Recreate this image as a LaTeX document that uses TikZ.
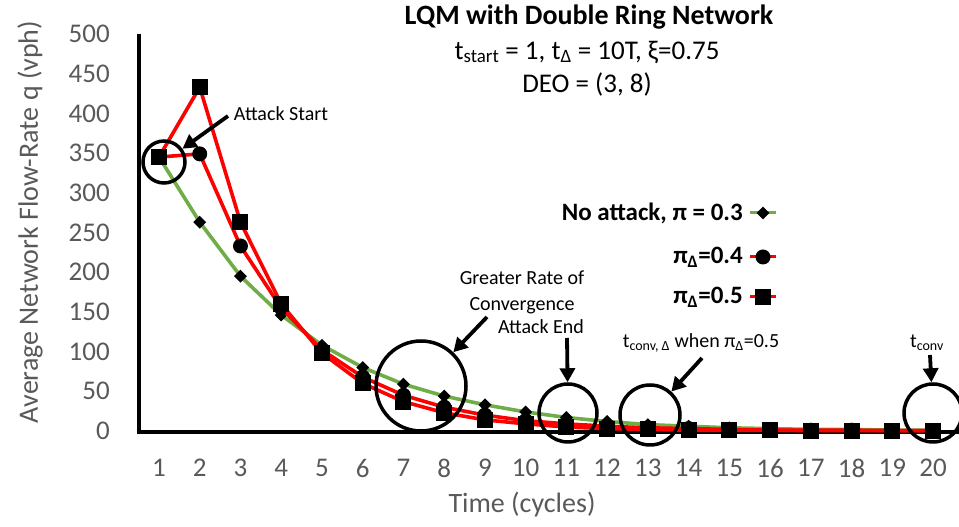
\documentclass[tikz,border=0pt]{standalone}
\usepackage{fontspec}
\setmainfont{Carlito}
\usetikzlibrary{arrows.meta,shapes.geometric}
\definecolor{axisgray}{HTML}{595959}
\definecolor{seriesgreen}{HTML}{70AD47}
\definecolor{seriesred}{HTML}{FF0000}
\begin{document}
\begin{tikzpicture}[x=1pt,y=1pt,
  ticklab/.style={text=axisgray,font=\fontsize{27}{32}\selectfont,inner sep=0pt},
  axtitle/.style={text=axisgray,font=\fontsize{27}{32}\selectfont,inner sep=0pt},
  headfont/.style={font=\fontsize{27}{32}\selectfont,inner sep=0pt},
  legfont/.style={font=\bfseries\fontsize{25}{30}\selectfont,inner sep=0pt},
  notefont/.style={font=\fontsize{20}{26}\selectfont,inner sep=0pt,align=center},
  axisline/.style={line width=3.5pt,black},
  greenline/.style={line width=3.6pt,seriesgreen,line join=round},
  redline/.style={line width=3.6pt,seriesred,line join=round},
  sqmark/.style={rectangle,fill=black,minimum size=16pt,inner sep=0pt},
  dotmark/.style={circle,fill=black,minimum size=15pt,inner sep=0pt},
  diamark/.style={diamond,aspect=1,fill=black,minimum size=13pt,inner sep=0pt},
  ring/.style={circle,draw=black,line width=3.5pt,inner sep=0pt},
  callout/.style={line width=3.8pt,-{Triangle[length=14pt,width=15pt]}}
]
\useasboundingbox (0,0) rectangle (959,527);

% axes
\draw[axisline] (139,493) -- (139,95) -- (959,95);

% y tick labels
\foreach \v in {0,50,...,500}
  \node[ticklab,anchor=east] (ytick\v) at (110,{96+0.794*\v}) {\v};
% x tick labels
\foreach \i in {1,...,20}
  \node[ticklab] (xtick\i) at ({159+40.74*(\i-1)},59) {\i};

% axis titles
\node[axtitle,font=\fontsize{28}{33}\selectfont,rotate=90] (ytitle) at (30,305) {Average Network Flow-Rate q (vph)};
\node[axtitle,font=\fontsize{28}{33}\selectfont] (xtitle) at (522,22) {Time (cycles)};

% chart title
\node[headfont,font=\bfseries\fontsize{28}{33}\selectfont] (title) at (589,510) {LQM with Double Ring Network};
\node[headfont] (sub1) at (587,475) {t\textsubscript{start} = 1, t\textsubscript{Δ} = 10T, ξ=0.75};
\node[headfont] (sub2) at (587,442) {DEO = (3, 8)};

% data series
\begin{scope}[shift={(118.26pt,96pt)},x=40.74pt,y=0.794pt]
  \draw[greenline] plot coordinates {(1,345)(2,263)(3,195)(4,146)(5,108)(6,80)(7,59)(8,44)(9,33)(10,24)(11,17)(12,12)(13,8)(14,6)(15,4)(16,3)(17,2)(18,2)(19,1)(20,1)};
  \foreach \i/\v in {1/345,2/263,3/195,4/146,5/108,6/80,7/59,8/44,9/33,10/24,11/17,12/12,13/8,14/6,15/4,16/3,17/2,18/2,19/1,20/1}
    \node[diamark] (g\i) at (\i,\v) {};
  \draw[redline] plot coordinates {(1,345)(2,349)(3,233)(4,155)(5,102)(6,68)(7,45)(8,30)(9,20)(10,13)(11,9)(12,6)(13,4)(14,3)(15,2)(16,1)(17,1)(18,1)(19,0.5)(20,0.5)};
  \foreach \i/\v in {1/345,2/349,3/233,4/155,5/102,6/68,7/45,8/30,9/20,10/13,11/9,12/6,13/4,14/3,15/2,16/1,17/1,18/1,19/0.5,20/0.5}
    \node[dotmark] (c\i) at (\i,\v) {};
  \draw[redline] plot coordinates {(1,345)(2,433)(3,263)(4,160)(5,98)(6,60)(7,37)(8,23)(9,14)(10,9)(11,5)(12,3)(13,2)(14,1)(15,1)(16,1)(17,0.5)(18,0.5)(19,0.5)(20,0.5)};
  \foreach \i/\v in {1/345,2/433,3/263,4/160,5/98,6/60,7/37,8/23,9/14,10/9,11/5,12/3,13/2,14/1,15/1,16/1,17/0.5,18/0.5,19/0.5,20/0.5}
    \node[sqmark] (s\i) at (\i,\v) {};
\end{scope}

% legend
\node[legfont,anchor=east] (leg1) at (743,314) {No attack, π = 0.3};
\draw[greenline,line width=3pt] (750,314) -- (776,314);
\node[diamark] (legm1) at (763,314) {};
\node[legfont,anchor=east] (leg2) at (743,270) {π\textsubscript{Δ}=0.4};
\draw[redline,line width=3pt] (750,270) -- (776,270);
\node[dotmark] (legm2) at (763,270) {};
\node[legfont,anchor=east] (leg3) at (743,230) {π\textsubscript{Δ}=0.5};
\draw[redline,line width=3pt] (750,230) -- (776,230);
\node[sqmark] (legm3) at (763,230) {};

% annotation rings
\node[ring,minimum size=42pt] (ringstart) at (164,365) {};
\node[ring,minimum size=90pt] (ringrate) at (421,141) {};
\node[ring,minimum size=58pt] (ringend) at (568,114) {};
\node[ring,minimum size=60pt] (ringconvd) at (650,112) {};
\node[ring,minimum size=58pt] (ringconv) at (933,114) {};

% annotation texts
\node[notefont] (nstart) at (281,413) {Attack Start};
\node[notefont] (nrate) at (522,235) {Greater Rate of\\Convergence};
\node[notefont] (nend) at (541,200) {Attack End};
\node[notefont] (nconvd) at (701,184) {t\textsubscript{conv, Δ} when π\textsubscript{Δ}=0.5};
\node[notefont] (nconv) at (927,184) {t\textsubscript{conv}};

% callout arrows
\coordinate (tstart) at (228,411);
\coordinate (trate) at (487,210);
\coordinate (tend) at (567,189);
\coordinate (tconvd) at (702,169);
\coordinate (tconv) at (930,172);
\draw[callout] (tstart) -- (ringstart);
\draw[callout] (trate) -- (ringrate);
\draw[callout] (tend) -- (ringend);
\draw[callout] (tconvd) -- (ringconvd);
\draw[callout] (tconv) -- (ringconv);
\end{tikzpicture}
\end{document}
